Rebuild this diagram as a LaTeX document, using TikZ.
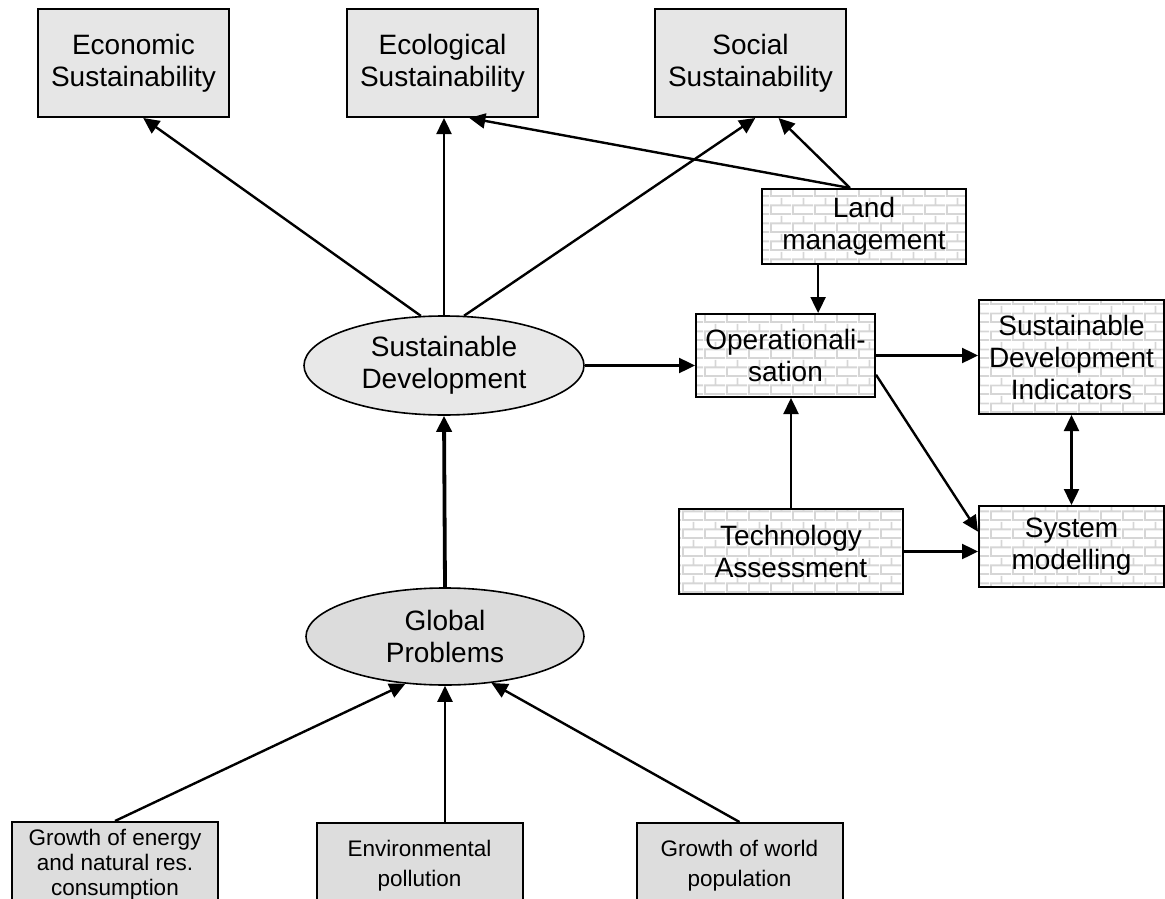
\documentclass[tikz,border=0pt]{standalone}
\usepackage{fontspec}
\setmainfont{Liberation Sans}
\usetikzlibrary{shapes.geometric,arrows.meta,patterns.meta,calc}
\definecolor{boxgray}{HTML}{E6E6E6}
\definecolor{botgray}{HTML}{DDDDDD}
\definecolor{sdgray}{HTML}{E8E8E8}
\definecolor{gpgray}{HTML}{DCDCDC}
\definecolor{brickgray}{HTML}{D6D6D6}
\pgfdeclarepattern{
  name=brickwall,
  type=uncolored,
  bottom left={\pgfpoint{0pt}{0pt}},
  top right={\pgfpoint{22pt}{18pt}},
  tile size={\pgfpoint{22pt}{18pt}},
  code={
    \pgfsetlinewidth{2pt}
    \pgfpathmoveto{\pgfpoint{0pt}{1pt}}\pgfpathlineto{\pgfpoint{22pt}{1pt}}
    \pgfpathmoveto{\pgfpoint{0pt}{10pt}}\pgfpathlineto{\pgfpoint{22pt}{10pt}}
    \pgfpathmoveto{\pgfpoint{1pt}{1pt}}\pgfpathlineto{\pgfpoint{1pt}{10pt}}
    \pgfpathmoveto{\pgfpoint{12pt}{10pt}}\pgfpathlineto{\pgfpoint{12pt}{18pt}}
    \pgfusepath{stroke}
  }
}
\begin{document}
\begin{tikzpicture}[x=1pt,y=-1pt,
  bigfont/.style={font=\fontsize{28}{32}\selectfont},
  topbox/.style={draw, line width=2pt, fill=boxgray, minimum width=191pt, minimum height=108pt, inner sep=0pt, align=center, bigfont},
  brick/.style={draw, line width=2pt, pattern=brickwall, pattern color=brickgray, inner sep=0pt, align=center, bigfont},
  ell/.style={ellipse, draw, line width=1.6pt, inner sep=0pt, align=center, bigfont},
  botbox/.style={draw, line width=2pt, fill=botgray, minimum width=206pt, minimum height=86pt, inner sep=0pt, align=center},
  arr/.style={-{Triangle[length=16pt,width=15pt]}, line width=2.4pt},
  darr/.style={{Triangle[length=16pt,width=15pt]}-{Triangle[length=16pt,width=15pt]}, line width=2.4pt}
]
\useasboundingbox (0,0) rectangle (1165,899);
\clip (0,0) rectangle (1165,899);

% top row
\node[topbox] (eco) at (133.5,63) {Economic\\Sustainability};
\node[topbox] (ecl) at (442.5,63) {Ecological\\Sustainability};
\node[topbox] (soc) at (750.5,63) {Social\\Sustainability};

% brick boxes
\node[brick, minimum width=204pt, minimum height=75pt] (land) at (864,226.5) {Land\\management};
\node[brick, minimum width=179pt, minimum height=83pt] (oper) at (785.5,355.5) {Operationali-\\sation};
\node[brick, minimum width=185pt, minimum height=114pt] (sdi) at (1071.5,357) {Sustainable\\Development\\Indicators};
\node[brick, minimum width=185pt, minimum height=81pt] (sysm) at (1071.5,546.5) {System\\modelling};
\node[brick, minimum width=224pt, minimum height=85pt] (tech) at (791,551.5) {Technology\\Assessment};

% ellipses
\node[ell, fill=sdgray, minimum width=280pt, minimum height=99pt] (sd) at (444,365.5) {Sustainable\\Development};
\node[ell, fill=gpgray, minimum width=278pt, minimum height=97pt] (gp) at (445,636.5) {Global\\Problems};

% bottom row
\node[botbox, font=\fontsize{22.5}{25}\selectfont] (g1) at (115,865) {Growth of energy\\and natural res.\\consumption};
\node[botbox, font=\fontsize{22.5}{30}\selectfont] (g2) at (419.5,866) {Environmental\\pollution};
\node[botbox, font=\fontsize{22.5}{30}\selectfont] (g3) at (739.5,866) {Growth of world\\population};

% connectors
\draw[arr] (sd.115.2) -- (eco.-80);
\draw[arr] (sd.north) -- (sd.north |- ecl.south);
\draw[arr] (sd.68.8) -- (soc.-85.2);
\draw[arr] (land.110.5) -- (ecl.-64.7);
\draw[arr] (land.110.5) -- (soc.-63.9);
\draw[arr] (land.-140.8) -- (land.-140.8 |- oper.north);
\draw[arr] (sd.east) -- (sd.east -| oper.west);
\draw[arr] (oper.east) -- (oper.east -| sdi.west);
\draw[arr] (oper.-12.3) -- (sysm.171.1);
\draw[arr] (tech.north) -- (tech.north |- oper.south);
\draw[arr] (tech.east) -- (tech.east -| sysm.west);
\draw[darr] (sdi.south) -- (sysm.north);
\draw[arr, line width=3.8pt] (gp.north) -- (sd.south);
\draw[arr] (g1.north) -- (gp.-130.8);
\draw[arr] (gp.south |- g2.north) -- (gp.south);
\draw[arr] (g3.north) -- (gp.-45.6);
\end{tikzpicture}
\end{document}
